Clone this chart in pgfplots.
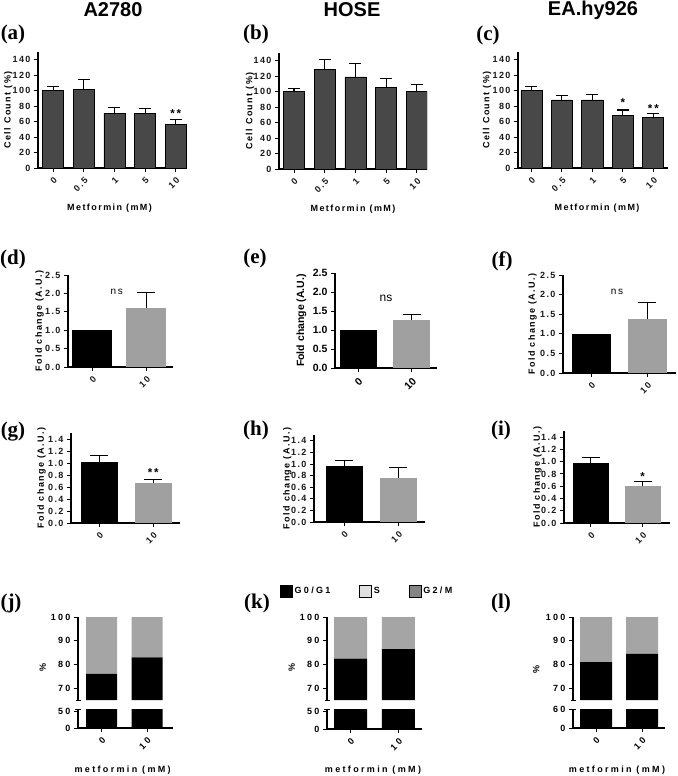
\documentclass[border=0pt]{standalone}
\usepackage{pgfplots}
\pgfplotsset{compat=1.18}
\usepackage{fontspec}
\setmainfont{Liberation Sans}
\newfontfamily\gp[LetterSpace=16]{Liberation Sans}
\newfontfamily\gpw[LetterSpace=26]{Liberation Sans}
\newfontfamily\tnr{Liberation Serif}
\definecolor{cnt}{RGB}{72,72,72}
\definecolor{gbar}{RGB}{160,160,160}
\definecolor{gup}{RGB}{165,165,165}
\definecolor{sph}{RGB}{224,224,224}
\definecolor{gtm}{RGB}{133,133,133}
\newcommand{\tf}{\gp\bfseries\fontsize{9}{10}\selectfont}
\newcommand{\tw}{\gpw\bfseries\fontsize{9}{10}\selectfont}
\tikzset{ast/.style={font=\gp\bfseries\fontsize{11.5}{12}\selectfont}}
\pgfplotsset{
  base/.style={scale only axis, anchor=south west, axis lines=left,
    axis line style={-, line width=1.1pt, black},
    tick style={line width=0.9pt, black}, major tick length=4pt, tick align=outside,
    /pgf/number format/assume math mode=true,
    ticklabel style={font=\tf, text=black!90},
    label style={font=\tf},
    ylabel style={anchor=center}, xlabel style={anchor=center}},
  cc/.style={ymin=0, ymax=150, ytick={0,20,...,140}, xtick={0,1,2,3,4},
    xticklabels={0,0.5,1,5,10}, xticklabel style={rotate=45, anchor=north east},
    ybar, bar shift=0pt, xlabel={Metformin (mM)}, ylabel={Cell Count (\%)}},
  fold/.style={ymin=0, xtick={0,1}, xticklabels={0,10},
    xticklabel style={rotate=45, anchor=north east},
    yticklabel style={/pgf/number format/.cd, fixed, fixed zerofill, precision=1},
    ybar, bar shift=0pt, ylabel={Fold change (A.U.)}},
  fa/.style={fold, ymax=2.5, ytick={0,0.5,1,1.5,2,2.5}},
  fb/.style={fold, ymax=1.5, ytick={0,0.2,0.4,0.6,0.8,1,1.2,1.4}},
  up/.style={ymin=65, ymax=100, ytick={70,80,90,100}, xtick=\empty, axis x line=none,
    extra y ticks={65}, extra y tick labels={}, extra y tick style={major tick length=5pt, tick align=center},
    ybar stacked, ylabel={\%}, ticklabel style={font=\tw, text=black}, label style={font=\tw}},
  lo/.style={ymin=0, xtick={0,1}, xticklabels={0,10}, xticklabel style={rotate=45, anchor=north east},
    extra y tick labels={}, extra y tick style={major tick length=6pt, tick align=center},
    ybar, bar shift=0pt, xlabel={metformin (mM)}, ticklabel style={font=\tw, text=black}, label style={font=\tw}},
  errs/.style={error bars/.cd, y dir=plus, y explicit,
    error bar style={line width=1.1pt, black, solid},
    error mark options={rotate=90, line width=1.1pt, black, mark size=#1}}
}
\begin{document}
\begin{tikzpicture}
\path[use as bounding box] (0pt,0pt) rectangle (677pt,-776pt);
% titles
\node[font=\bfseries\fontsize{20}{21}\selectfont] at (113pt,-10pt) {A2780};
\node[font=\bfseries\fontsize{20}{21}\selectfont] at (352pt,-10pt) {HOSE};
\node[font=\bfseries\fontsize{20}{21}\selectfont] at (593pt,-10pt) {EA.hy926};
% panel letters
\begin{scope}[every node/.style={font=\tnr\bfseries\fontsize{21}{23}\selectfont}]
\node at (13pt,-34pt) {(a)};
\node at (256pt,-34pt) {(b)};
\node at (488pt,-35pt) {(c)};
\node at (13pt,-259pt) {(d)};
\node at (255pt,-258pt) {(e)};
\node at (502pt,-261pt) {(f)};
\node at (13pt,-432pt) {(g)};
\node at (256pt,-430pt) {(h)};
\node at (501pt,-430pt) {(i)};
\node at (11pt,-603pt) {(j)};
\node at (257pt,-603pt) {(k)};
\node at (501pt,-603pt) {(l)};
\end{scope}

% (a)
\begin{axis}[base, cc, at={(38pt,-168pt)}, width=149pt, height=116pt, xmin=-0.5, xmax=4.37, bar width=21pt,
  ylabel style={at={(axis description cs:-0.2,0.5)}}, xlabel style={at={(axis description cs:0.48,-0.345)}}]
\addplot[fill=cnt, draw=black, line width=0.8pt, errs=6pt] coordinates {(0,100) +- (0,5) (1,102) +- (0,13) (2,71) +- (0,7) (3,70) +- (0,7) (4,56) +- (0,7)};
\node[ast] at (axis cs:4,71) {**};
\end{axis}

% (b)
\begin{axis}[base, cc, at={(279pt,-169pt)}, width=148pt, height=116pt, xmin=-0.49, xmax=4.33, bar width=21pt,
  ylabel style={at={(axis description cs:-0.196,0.5)}}, xlabel style={at={(axis description cs:0.5,-0.35)}}]
\addplot[fill=cnt, draw=black, line width=0.8pt, errs=6pt] coordinates {(0,100) +- (0,4) (1,129) +- (0,13) (2,119) +- (0,17) (3,105) +- (0,12) (4,100) +- (0,9)};
\end{axis}

% (c)
\begin{axis}[base, cc, at={(518pt,-168pt)}, width=150pt, height=116pt, xmin=-0.44, xmax=4.48, bar width=21pt,
  ylabel style={at={(axis description cs:-0.207,0.5)}}, xlabel style={at={(axis description cs:0.527,-0.345)}}]
\addplot[fill=cnt, draw=black, line width=0.8pt, errs=6pt] coordinates {(0,100) +- (0,5) (1,88) +- (0,6) (2,88) +- (0,7) (3,68) +- (0,7) (4,65) +- (0,5)};
\node[ast] at (axis cs:3,84) {*};
\node[ast] at (axis cs:4,77) {**};
\end{axis}

% (d)
\begin{axis}[base, fa, at={(68pt,-367pt)}, width=105pt, height=92pt, xmin=-0.45, xmax=1.49, bar width=40pt,
  ylabel style={at={(axis description cs:-0.27,0.5)}}]
\addplot[fill=black, draw=none] coordinates {(0,1.0)};
\addplot[fill=gbar, draw=none, errs=9pt] coordinates {(1,1.6) +- (0,0.43)};
\node[font=\gp\fontsize{10}{11}\selectfont] at (axis cs:0.45,2.04) {ns};
\end{axis}

% (e)
\begin{axis}[base, fa, at={(335pt,-368pt)}, width=102pt, height=95pt, xmin=-0.43, xmax=1.47, bar width=37pt,
  ticklabel style={font=\bfseries\fontsize{10.5}{12}\selectfont, text=black},
  label style={font=\bfseries\fontsize{10.5}{12}\selectfont},
  ylabel style={at={(axis description cs:-0.33,0.5)}}]
\addplot[fill=black, draw=none] coordinates {(0,1.0)};
\addplot[fill=gbar, draw=none, errs=9pt] coordinates {(1,1.27) +- (0,0.13)};
\node[font=\fontsize{12}{13}\selectfont] at (axis cs:0.52,1.84) {ns};
\end{axis}

% (f)
\begin{axis}[base, fa, at={(563pt,-373pt)}, width=113pt, height=98pt, xmin=-0.51, xmax=1.51, bar width=39pt,
  ylabel style={at={(axis description cs:-0.27,0.5)}}]
\addplot[fill=black, draw=none] coordinates {(0,1.0)};
\addplot[fill=gbar, draw=none, errs=9pt] coordinates {(1,1.38) +- (0,0.42)};
\node[font=\gp\fontsize{10}{11}\selectfont] at (axis cs:0.455,2.07) {ns};
\end{axis}

% (g)
\begin{axis}[base, fb, at={(71pt,-523pt)}, width=109pt, height=90pt, xmin=-0.53, xmax=1.50, bar width=37pt,
  ylabel style={at={(axis description cs:-0.27,0.5)}}]
\addplot[fill=black, draw=none, errs=9pt] coordinates {(0,1.02) +- (0,0.11)};
\addplot[fill=gbar, draw=none, errs=9pt] coordinates {(1,0.67) +- (0,0.05)};
\node[ast] at (axis cs:1,0.84) {**};
\end{axis}

% (h)
\begin{axis}[base, fb, at={(314pt,-522pt)}, width=111pt, height=87pt, xmin=-0.56, xmax=1.49, bar width=37pt,
  ylabel style={at={(axis description cs:-0.24,0.5)}}]
\addplot[fill=black, draw=none, errs=9pt] coordinates {(0,0.97) +- (0,0.09)};
\addplot[fill=gbar, draw=none, errs=9pt] coordinates {(1,0.76) +- (0,0.18)};
\end{axis}

% (i)
\begin{axis}[base, fb, at={(564pt,-523pt)}, width=106pt, height=92pt, xmin=-0.52, xmax=1.53, bar width=36pt,
  ylabel style={at={(axis description cs:-0.25,0.5)}}]
\addplot[fill=black, draw=none, errs=9pt] coordinates {(0,0.98) +- (0,0.09)};
\addplot[fill=gbar, draw=none, errs=9pt] coordinates {(1,0.61) +- (0,0.07)};
\node[ast] at (axis cs:1,0.75) {*};
\end{axis}

% (j)
\begin{axis}[base, up, at={(78pt,-700pt)}, width=95pt, height=83pt, xmin=-0.52, xmax=1.57, bar width=31pt,
  ylabel style={at={(axis description cs:-0.37,0.39)}}]
\addplot[fill=black, draw=none] coordinates {(0,76) (1,83)};
\addplot[fill=gup, draw=none] coordinates {(0,24) (1,17)};
\end{axis}
\begin{axis}[base, lo, at={(78pt,-728pt)}, width=95pt, height=19pt, xmin=-0.52, xmax=1.57, bar width=31pt,
  ymax=56, ytick={0,50}, extra y ticks={56}, xlabel style={at={(axis description cs:0.47,-2.21)}}]
\addplot[fill=black, draw=none] coordinates {(0,100) (1,100)};
\end{axis}

% (k)
\begin{axis}[base, up, at={(327pt,-700pt)}, width=95pt, height=83pt, xmin=-0.49, xmax=1.49, bar width=33pt,
  ylabel style={at={(axis description cs:-0.37,0.39)}}]
\addplot[fill=black, draw=none] coordinates {(0,82.5) (1,86.5)};
\addplot[fill=gup, draw=none] coordinates {(0,17.5) (1,13.5)};
\end{axis}
\begin{axis}[base, lo, at={(327pt,-729pt)}, width=95pt, height=20pt, xmin=-0.49, xmax=1.49, bar width=33pt,
  ymax=58, ytick={0,50}, extra y ticks={58}, xlabel style={at={(axis description cs:0.484,-2.05)}},
  legend columns=3,
  legend style={at={(axis description cs:-0.495,6.9)}, anchor=west, draw=none, fill=none, inner sep=0pt,
    font=\tw, /tikz/every even column/.append style={column sep=27pt}},
  legend image code/.code={\path[#1] (0pt,-6pt) rectangle (12pt,6pt);}]
\addplot[fill=black, draw=none, forget plot] coordinates {(0,100) (1,100)};
\addlegendimage{fill=black}
\addlegendentry{G0/G1}
\addlegendimage{fill=sph}
\addlegendentry{S}
\addlegendimage{fill=gtm}
\addlegendentry{G2/M}
\end{axis}

% (l)
\begin{axis}[base, up, at={(573pt,-700pt)}, width=92pt, height=83pt, xmin=-0.5, xmax=1.5, bar width=32pt,
  ylabel style={at={(axis description cs:-0.40,0.37)}}]
\addplot[fill=black, draw=none] coordinates {(0,81) (1,84.5)};
\addplot[fill=gup, draw=none] coordinates {(0,19) (1,15.5)};
\end{axis}
\begin{axis}[base, lo, at={(573pt,-728pt)}, width=92pt, height=19pt, xmin=-0.5, xmax=1.5, bar width=32pt,
  ymax=62, ytick={0,60}, extra y ticks={62}, xlabel style={at={(axis description cs:0.478,-2.21)}}]
\addplot[fill=black, draw=none] coordinates {(0,100) (1,100)};
\end{axis}
\end{tikzpicture}
\end{document}
